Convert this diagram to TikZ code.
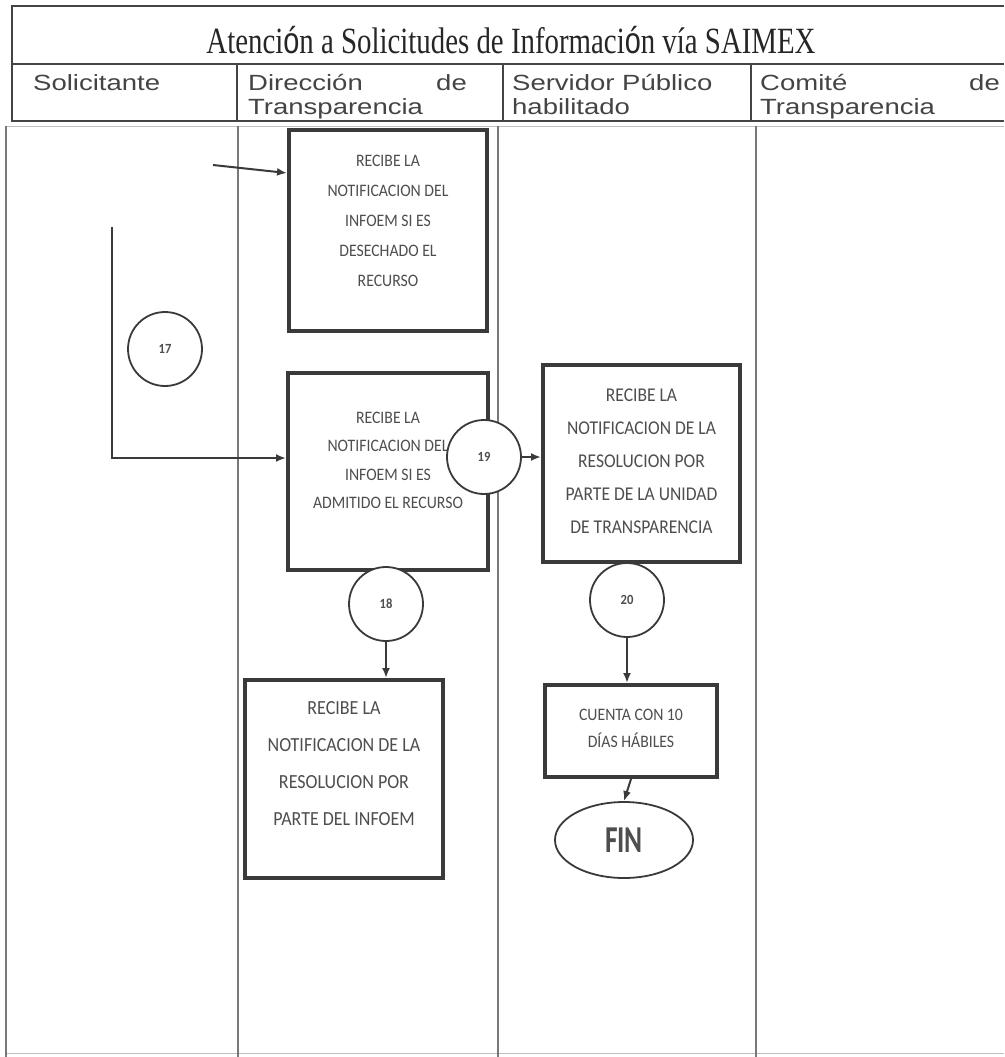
\documentclass[tikz,border=0pt]{standalone}
\usepackage{fontspec}
\setmainfont{Liberation Serif}
\newfontfamily\hdrfont[FakeStretch=1.25]{Liberation Sans}
\newfontfamily\accfont{Liberation Sans}
\newfontfamily\boxfont[FakeStretch=0.9]{Carlito}
\usetikzlibrary{arrows.meta,shapes.geometric,calc}

\definecolor{ink}{RGB}{58,58,58}
\definecolor{txt}{RGB}{78,78,78}
\definecolor{rule}{RGB}{120,120,120}
\definecolor{hdr}{RGB}{68,68,68}

\begin{document}
\begin{tikzpicture}[x=1pt,y=-1pt,
  procbox/.style={draw=ink, line width=4pt, fill=white, inner sep=0pt},
  boxtext/.style={text=txt, align=center, inner sep=0pt},
  stepno/.style={circle, draw=ink, line width=1.8pt, fill=white, minimum size=74pt,
    inner sep=0pt, text=txt, font=\boxfont\bfseries\fontsize{14}{14}\selectfont},
  endnode/.style={ellipse, draw=ink, line width=1.8pt, fill=white, minimum width=138pt,
    minimum height=76pt, inner sep=0pt, text=txt},
  flow/.style={draw=ink, line width=2pt, -{Latex[length=10pt,width=8pt]}},
  lane/.style={draw=rule, line width=1.3pt},
  tbl/.style={draw=hdr, line width=1.6pt},
  hdrtext/.style={anchor=base west, inner sep=0pt, text=hdr, font=\hdrfont\fontsize{22}{22}\selectfont},
]
% page
\fill[white] (0,0) rectangle (1004,1057);
\path[use as bounding box] (0,0) rectangle (1004,1057);

% header table
\draw[tbl] (1004,6) -- (12,6) -- (12,121) -- (1004,121);
\draw[tbl] (12,64) -- (1004,64);
\foreach \xx in {237,503,751} \draw[tbl] (\xx,64) -- (\xx,121);

% swimlanes
\draw[draw=black!25, line width=1pt] (6,126) -- (1004,126);
\draw[draw=black!25, line width=1pt] (6,1053) -- (1004,1053);
\foreach \xx in {6,238,498,756} \draw[lane] (\xx,126) -- (\xx,1057);

% title
\node[anchor=base, inner sep=0pt, text=black!85] (title) at (511,53)
  {\scalebox{0.78}[1]{\fontsize{37}{37}\selectfont Atenci{\accfont ó}n a Solicitudes de Informaci{\accfont ó}n vía SAIMEX}};

% lane headers
\node[hdrtext] (hSol) at (33,90) {Solicitante};
\node[hdrtext] (hDir) at (248,90) {Dirección};
\node[hdrtext, anchor=base east] (hDirDe) at (467,90) {de};
\node[hdrtext] (hDirT) at (248,114) {Transparencia};
\node[hdrtext] (hSer) at (512,90) {Servidor Público};
\node[hdrtext] (hSerH) at (512,114) {habilitado};
\node[hdrtext] (hCom) at (760,90) {Comité};
\node[hdrtext, anchor=base east] (hComDe) at (1000,90) {de};
\node[hdrtext] (hComT) at (760,114) {Transparencia};

% process boxes
\node[procbox, minimum width=198pt, minimum height=201pt] (bA) at (388,230.5) {};
\node[procbox, minimum width=200pt, minimum height=197pt] (bB) at (388,471.5) {};
\node[procbox, minimum width=197pt, minimum height=197pt] (bC) at (641.5,463.5) {};
\node[procbox, minimum width=198pt, minimum height=198pt] (bD) at (344,779) {};
\node[procbox, minimum width=172pt, minimum height=92pt] (bE) at (631,731) {};

\node[boxtext, font=\boxfont\fontsize{17.5}{30}\selectfont] (tA) at ([yshift=10pt]bA.center)
  {RECIBE LA\\NOTIFICACION DEL\\INFOEM SI ES\\DESECHADO EL\\RECURSO};
\node[boxtext, font=\boxfont\fontsize{17.5}{28.5}\selectfont] (tB) at ([yshift=11pt]bB.center)
  {RECIBE LA\\NOTIFICACION DEL\\INFOEM SI ES\\ADMITIDO EL RECURSO};
\node[boxtext, font=\boxfont\fontsize{19.5}{33}\selectfont] (tC) at ([yshift=2pt]bC.center)
  {RECIBE LA\\NOTIFICACION DE LA\\RESOLUCION POR\\PARTE DE LA UNIDAD\\DE TRANSPARENCIA};
\node[boxtext, font=\boxfont\fontsize{20}{37}\selectfont] (tD) at ([yshift=15pt]bD.center)
  {RECIBE LA\\NOTIFICACION DE LA\\RESOLUCION POR\\PARTE DEL INFOEM};
\node[boxtext, font=\boxfont\fontsize{17.5}{27}\selectfont] (tE) at ([yshift=2.5pt]bE.center)
  {CUENTA CON 10\\DÍAS HÁBILES};

% end terminator
\node[endnode, font=\boxfont\bfseries\fontsize{38}{38}\selectfont] (fin) at (624,840)
  {\scalebox{0.8}[1]{FIN}};

% step numbers
\node[stepno] (c17) at (165,349) {17};
\node[stepno] (c18) at (386,604) {18};
\node[stepno] (c19) at (484,457) {19};
\node[stepno] (c20) at (627,600) {20};

% connectors
\coordinate (inA) at (213,165);
\coordinate (src17) at (112,227);
\draw[flow] (inA) -- ([yshift=57.5pt]bA.west);
\draw[flow] (src17) |- ([yshift=13.5pt]bB.west);
\draw[flow] (c19.east) -- (c19.east -| bC.west);
\draw[flow] (c18.south) -- (c18.south |- bD.north);
\draw[flow] (c20.south) -- (c20.south |- bE.north);
\draw[flow] (bE.south) -- (fin.north);
\end{tikzpicture}
\end{document}
